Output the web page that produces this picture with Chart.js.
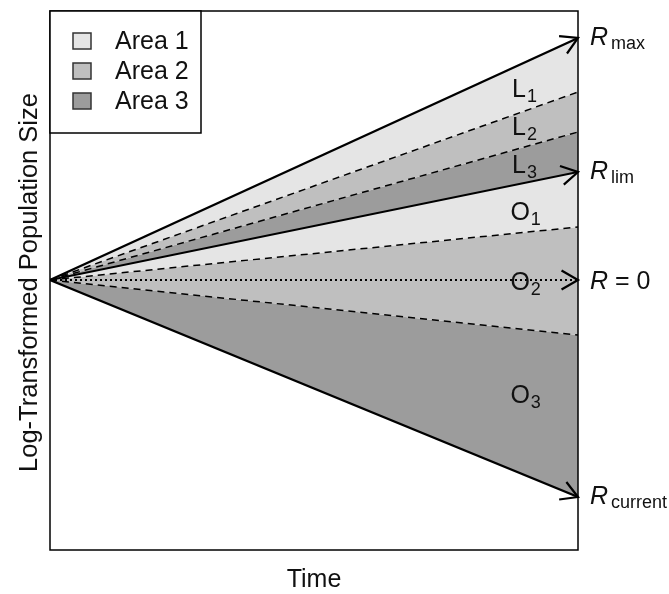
<!DOCTYPE html>
<html>
<head>
<meta charset="utf-8">
<script src="https://cdn.jsdelivr.net/npm/chart.js@4.4.0/dist/chart.umd.min.js"></script>
<style>
  html, body { margin: 0; padding: 0; background: #ffffff; }
  #c { display: block; }
</style>
</head>
<body>
<canvas id="c" width="669" height="594"></canvas>
<script>
// ---- data (x = relative time, y = log-transformed population size, R = 0 at 0) ----
const timePoints   = [0, 1];
const rMax         = [0, 242];
const boundL1L2    = [0, 188];
const boundL2L3    = [0, 148];
const rLim         = [0, 108];
const boundO1O2    = [0, 53];
const rZero        = [0, 0];
const boundO2O3    = [0, -55];
const rCurrent     = [0, -217];
const legendLabels = ['Area 1', 'Area 2', 'Area 3'];
const areaColors   = ['#e5e5e5', '#bfbfbf', '#9c9c9c'];
const xTitle = 'Time';
const yTitle = 'Log-Transformed Population Size';

const FONT = '"Liberation Sans", Arial, sans-serif';

function pts(ys) { return ys.map((y, i) => ({ x: timePoints[i], y: y })); }

function lineDs(label, ys, opts) {
  return Object.assign({
    label: label,
    data: pts(ys),
    borderColor: '#000',
    borderWidth: 2.2,
    pointRadius: 0,
    tension: 0,
    fill: false
  }, opts);
}

const datasets = [
  lineDs('Rmax', rMax, { fill: '+1', backgroundColor: areaColors[0], arrow: true }),
  lineDs('L1L2', boundL1L2, { fill: '+1', backgroundColor: areaColors[1], borderWidth: 1.5, borderDash: [7, 5] }),
  lineDs('L2L3', boundL2L3, { fill: '+1', backgroundColor: areaColors[2], borderWidth: 1.5, borderDash: [7, 5] }),
  lineDs('Rlim', rLim, { fill: '+1', backgroundColor: areaColors[0], arrow: true }),
  lineDs('O1O2', boundO1O2, { fill: '+2', backgroundColor: areaColors[1], borderWidth: 1.5, borderDash: [7, 5] }),
  lineDs('R0', rZero, { borderWidth: 1.8, borderDash: [2, 3], arrow: true }),
  lineDs('O2O3', boundO2O3, { fill: '+1', backgroundColor: areaColors[2], borderWidth: 1.5, borderDash: [7, 5] }),
  lineDs('Rcurrent', rCurrent, { arrow: true })
];

function text(ctx, s, x, y, size, italic) {
  ctx.font = (italic ? 'italic ' : '') + size + 'px ' + FONT;
  ctx.fillText(s, x, y);
  return ctx.measureText(s).width;
}

const decor = {
  id: 'decor',
  afterDatasetsDraw(chart) {
    const ctx = chart.ctx;
    const xs = chart.scales.x, ys = chart.scales.y;
    const ca = chart.chartArea;
    ctx.save();
    // arrowheads
    chart.data.datasets.forEach((ds, i) => {
      if (!ds.arrow) return;
      const m = chart.getDatasetMeta(i).data;
      const p0 = m[0], p1 = m[m.length - 1];
      const a = Math.atan2(p1.y - p0.y, p1.x - p0.x);
      const L = 19, h = Math.PI / 6;
      ctx.strokeStyle = '#000';
      ctx.lineWidth = 2.2;
      ctx.setLineDash([]);
      ctx.beginPath();
      ctx.moveTo(p1.x - L * Math.cos(a - h), p1.y - L * Math.sin(a - h));
      ctx.lineTo(p1.x, p1.y);
      ctx.lineTo(p1.x - L * Math.cos(a + h), p1.y - L * Math.sin(a + h));
      ctx.stroke();
    });
    // plot frame
    ctx.lineWidth = 1.5;
    ctx.strokeStyle = '#000';
    ctx.strokeRect(ca.left, ca.top, ca.right - ca.left, ca.bottom - ca.top);

    ctx.fillStyle = '#111';
    ctx.textBaseline = 'alphabetic';
    ctx.textAlign = 'left';
    // region labels (data coordinates)
    const regions = [
      ['L', '1', 0.875, 183], ['L', '2', 0.875, 145], ['L', '3', 0.875, 107],
      ['O', '1', 0.872, 60], ['O', '2', 0.872, -10], ['O', '3', 0.872, -123]
    ];
    regions.forEach(r => {
      const px = xs.getPixelForValue(r[2]);
      const py = ys.getPixelForValue(r[3]);
      const w = text(ctx, r[0], px, py, 25, false);
      text(ctx, r[1], px + w + 1, py + 5, 18, false);
    });
    // right-side rate labels
    const rx = ca.right + 12;
    const rl = [
      [rMax[1], 'max'], [rLim[1], 'lim'], [rCurrent[1], 'current']
    ];
    rl.forEach(r => {
      const py = ys.getPixelForValue(r[0]) + 7;
      const w = text(ctx, 'R', rx, py, 25, true);
      text(ctx, r[1], rx + w + 3, py + 4, 18, false);
    });
    {
      const py = ys.getPixelForValue(rZero[1]) + 9;
      const w = text(ctx, 'R', rx, py, 25, true);
      text(ctx, ' = 0', rx + w, py, 25, false);
    }
    // axis titles
    ctx.textAlign = 'center';
    text(ctx, xTitle, (ca.left + ca.right) / 2, 587, 25, false);
    ctx.save();
    ctx.translate(37, (ca.top + ca.bottom) / 2 + 2);
    ctx.rotate(-Math.PI / 2);
    text(ctx, yTitle, 0, 0, 25.5, false);
    ctx.restore();

    // legend box
    ctx.textAlign = 'left';
    const lx = ca.left, ly = ca.top, lw = 151, lh = 122;
    ctx.fillStyle = '#fff';
    ctx.fillRect(lx, ly, lw, lh);
    ctx.lineWidth = 1.5;
    ctx.strokeStyle = '#000';
    ctx.strokeRect(lx, ly, lw, lh);
    legendLabels.forEach((lab, i) => {
      const cy = ly + 30 + i * 30;
      ctx.fillStyle = areaColors[i];
      ctx.fillRect(lx + 23, cy - 8, 18, 16);
      ctx.strokeStyle = '#333';
      ctx.lineWidth = 1.5;
      ctx.strokeRect(lx + 23, cy - 8, 18, 16);
      ctx.fillStyle = '#111';
      text(ctx, lab, lx + 65, cy + 8, 25, false);
    });
    ctx.restore();
  }
};

new Chart(document.getElementById('c'), {
  type: 'line',
  data: { datasets: datasets },
  options: {
    responsive: false,
    animation: false,
    layout: { padding: { left: 50, top: 11, right: 91, bottom: 44 } },
    plugins: {
      legend: { display: false },
      tooltip: { enabled: false },
      title: { display: false },
      filler: { drawTime: 'beforeDatasetsDraw' }
    },
    scales: {
      x: { type: 'linear', min: 0, max: 1, display: false },
      y: { type: 'linear', min: -270, max: 269, display: false }
    }
  },
  plugins: [decor]
});
</script>
</body>
</html>
